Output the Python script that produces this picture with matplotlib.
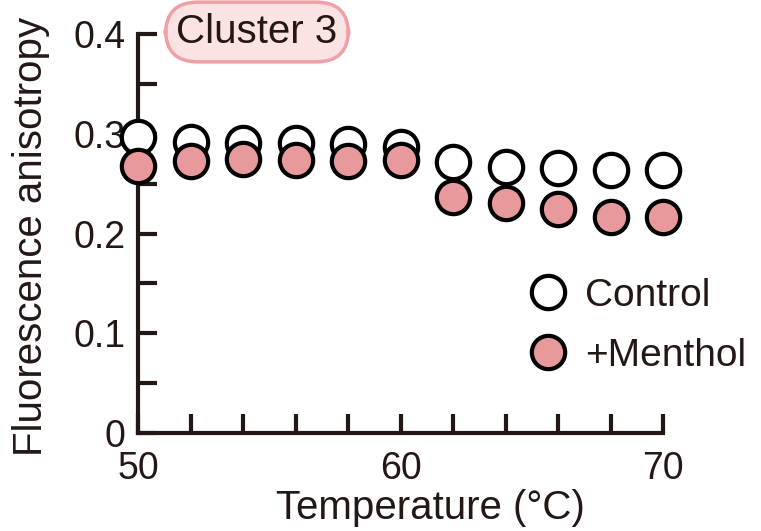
import matplotlib
matplotlib.use("Agg")
import matplotlib.pyplot as plt
from matplotlib.ticker import MultipleLocator

temperature = [50, 52, 54, 56, 58, 60, 62, 64, 66, 68, 70]
control = [0.297, 0.292, 0.291, 0.291, 0.290, 0.287, 0.272, 0.267, 0.266, 0.264, 0.264]
menthol = [0.268, 0.273, 0.275, 0.274, 0.273, 0.274, 0.237, 0.231, 0.225, 0.217, 0.217]
xticks = [50, 60, 70]
yticks = [0, 0.1, 0.2, 0.3, 0.4]
ytick_labels = ["0", "0.1", "0.2", "0.3", "0.4"]

ink = "#231815"
pink = "#E8999B"

plt.rcParams['font.family'] = ['Liberation Sans', 'DejaVu Sans']

W, H = 761, 531
fig = plt.figure(figsize=(W/100, H/100), dpi=100)
ax = fig.add_axes([138/W, 1-433/H, (663-138)/W, (433-34)/H])

ax.plot(temperature, control, 'o', ms=24, mfc='white', mec='black', mew=3, clip_on=False, zorder=3, label='Control')
ax.plot(temperature, menthol, 'o', ms=24, mfc=pink, mec='black', mew=3, clip_on=False, zorder=4, label='+Menthol')

ax.set_xlim(50, 70)
ax.set_ylim(0, 0.4)
ax.set_xticks(xticks)
ax.set_yticks(yticks)
ax.set_yticklabels(ytick_labels)
ax.xaxis.set_minor_locator(MultipleLocator(2))
ax.yaxis.set_minor_locator(MultipleLocator(0.05))
for s in ['top', 'right']:
    ax.spines[s].set_visible(False)
for s in ['left', 'bottom']:
    ax.spines[s].set_linewidth(3)
    ax.spines[s].set_color(ink)
ax.tick_params(which='both', direction='in', length=14, width=3, color=ink, labelsize=27, labelcolor=ink)
ax.tick_params(axis='x', which='major', pad=13)
ax.tick_params(axis='y', which='major', pad=9)

ax.set_xlabel('Temperature (°C)', fontsize=29, color=ink)
ax.xaxis.set_label_coords((430-138)/(663-138), -(508-433)/(433-34), transform=ax.transAxes)
ax.xaxis.label.set_va('center')
ax.set_ylabel('Fluorescence anisotropy', fontsize=29, color=ink)
ax.yaxis.set_label_coords(-(138-31)/(663-138), (433-236)/(433-34), transform=ax.transAxes)
ax.yaxis.label.set_va('center')

leg = ax.legend(loc='center left', bbox_to_anchor=((529-138)/(663-138), (433-326)/(433-34)),
                frameon=False, fontsize=28,
                handletextpad=0.45, labelspacing=0.62, borderaxespad=0, handlelength=1.0, borderpad=0)
for t in leg.get_texts():
    t.set_color(ink)

ax.text(257/W, 1-32/H, 'Cluster 3', transform=fig.transFigure, ha='center', va='center',
        fontsize=29, color=ink,
        bbox=dict(boxstyle='round,pad=0.27,rounding_size=0.8', fc='#FBE3E4', ec='#EFA0A5', lw=2.5))

fig.savefig('out.png', dpi=100)
